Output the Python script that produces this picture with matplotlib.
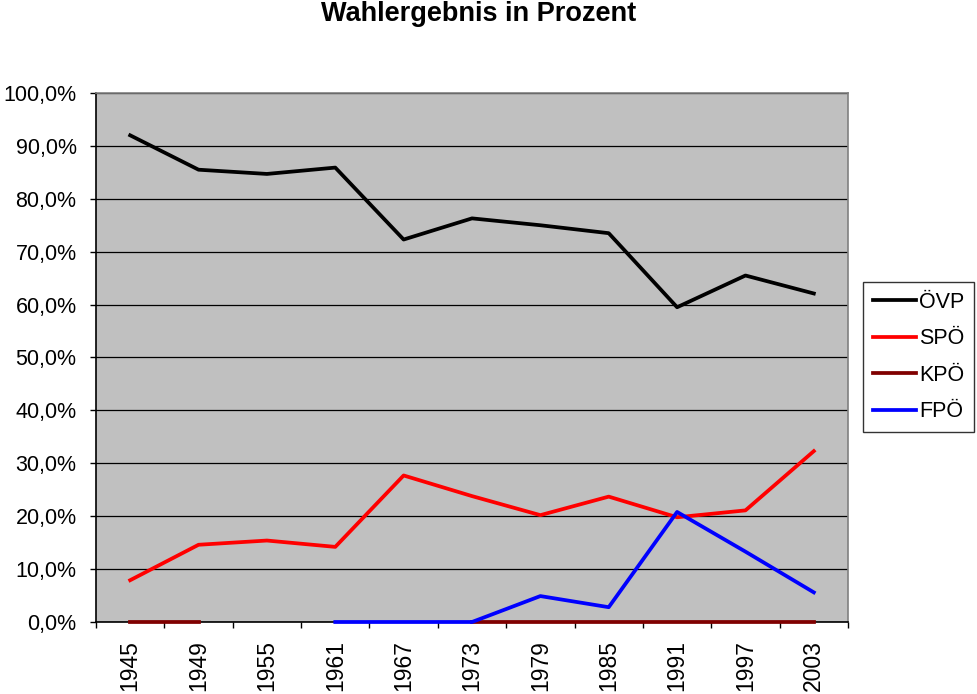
import numpy as np
import matplotlib
matplotlib.use('Agg')
import matplotlib.pyplot as plt
from matplotlib.ticker import FixedLocator, FuncFormatter

plt.rcParams['font.family'] = ['Liberation Sans', 'DejaVu Sans']

years = ['1945', '1949', '1955', '1961', '1967', '1973', '1979', '1985', '1991', '1997', '2003']
ovp = [92.0, 85.5, 84.7, 85.9, 72.3, 76.3, 75.0, 73.5, 59.5, 65.5, 62.1]
spo = [7.9, 14.6, 15.4, 14.2, 27.7, 23.8, 20.2, 23.7, 19.8, 21.1, 32.3]
kpo = [0.0, 0.0, np.nan, np.nan, np.nan, 0.0, 0.0, 0.0, 0.0, 0.0, 0.0]
fpo = [np.nan, np.nan, np.nan, 0.0, 0.0, 0.0, 4.9, 2.8, 20.8, 13.3, 5.6]


def main():
    fig = plt.figure(figsize=(9.78, 6.94), dpi=100)
    ax = fig.add_axes([96 / 978, 1 - 622 / 694, 752 / 978, 529 / 694])
    ax.set_facecolor('#C0C0C0')

    x = np.arange(len(years))
    lw = 2.7
    ax.plot(x, ovp, color='black', lw=lw, label='ÖVP', zorder=3)
    ax.plot(x, spo, color='#FF0000', lw=lw, label='SPÖ', zorder=3)
    ax.plot(x, kpo, color='#800000', lw=lw, label='KPÖ', zorder=4, clip_on=False)
    ax.plot(x, fpo, color='#0000FF', lw=lw, label='FPÖ', zorder=5, clip_on=False)

    ax.set_xlim(-0.5, len(years) - 0.5)
    ax.set_ylim(0, 100)
    ax.set_yticks(np.arange(0, 101, 10))
    ax.yaxis.set_major_formatter(FuncFormatter(lambda v, p: f'{v:.1f}%'.replace('.', ',')))
    ax.yaxis.grid(True, color='black', lw=0.9)
    ax.set_axisbelow(True)

    ax.set_xticks(x)
    ax.set_xticklabels(years, rotation=90)
    ax.xaxis.set_minor_locator(FixedLocator(np.arange(-0.5, len(years), 1)))
    ax.tick_params(axis='x', which='major', length=0, pad=13, labelsize=16.5)
    ax.tick_params(axis='x', which='minor', length=4.5, width=1, color='black', direction='out')
    ax.tick_params(axis='y', length=4.5, width=1, direction='out', labelsize=15.5, pad=9.5)

    ax.spines['left'].set_color('black')
    ax.spines['bottom'].set_color('black')
    ax.spines['top'].set_color('#808080')
    ax.spines['right'].set_color('#808080')
    for s in ax.spines.values():
        s.set_linewidth(1.2)

    fig.suptitle('Wahlergebnis in Prozent', x=479 / 978, y=1 - 14 / 694, va='center',
                 fontsize=19.5, fontweight='bold')

    leg = ax.legend(loc='upper left', bbox_to_anchor=(863 / 978, 1 - 282 / 694),
                    bbox_transform=fig.transFigure, frameon=True, fancybox=False,
                    fontsize=15.5, handlelength=2.0, handletextpad=0.15,
                    labelspacing=0.72, borderpad=0.45, borderaxespad=0)
    leg.get_frame().set_edgecolor('black')
    leg.get_frame().set_linewidth(1.0)

    fig.savefig('out.png', dpi=100)


if __name__ == '__main__':
    main()
